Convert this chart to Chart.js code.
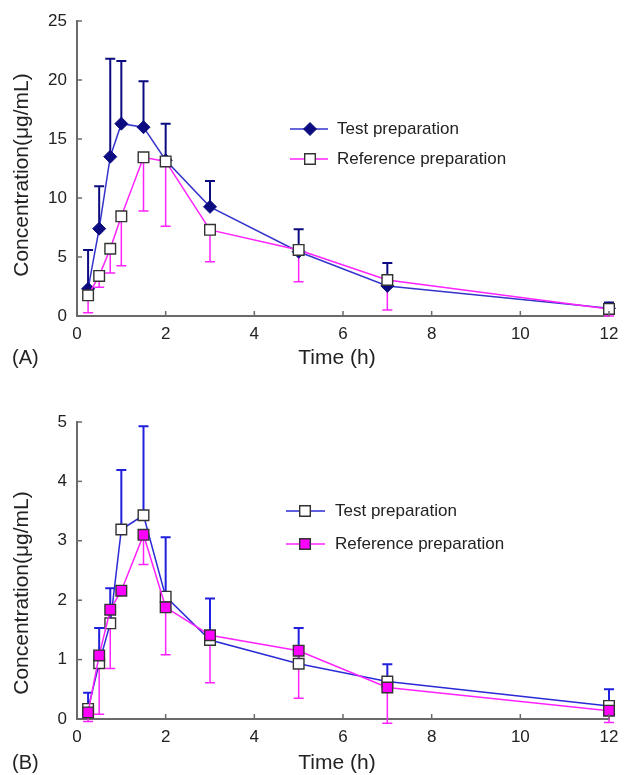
<!DOCTYPE html>
<html>
<head>
<meta charset="utf-8">
<script src="https://cdn.jsdelivr.net/npm/chart.js@4/dist/chart.umd.min.js"></script>
<style>
  body { margin: 0; background: #fff; }
  .panel { position: absolute; left: 0; }
</style>
</head>
<body>
<div class="panel" style="top:0px"><canvas id="chartA" width="639" height="380"></canvas></div>
<div class="panel" style="top:380px"><canvas id="chartB" width="639" height="395"></canvas></div>
<script>
// sampling times (h)
var times = [0.25, 0.5, 0.75, 1, 1.5, 2, 3, 5, 7, 12];

// panel A
var testMeanA = [2.3, 7.4, 13.5, 16.3, 16.0, 13.2, 9.25, 5.45, 2.55, 0.65];
var testSdA   = [3.3, 3.6, 8.3, 5.3, 3.9, 3.1, 2.2, 1.9, 1.95, 0.5];
var refMeanA  = [1.75, 3.4, 5.7, 8.45, 13.45, 13.1, 7.3, 5.6, 3.05, 0.6];
var refSdA    = [1.47, 0.96, 2.06, 4.2, 4.55, 5.5, 2.7, 2.7, 2.55, 0.6];

// panel B
var testMeanB = [0.17, 0.94, 1.61, 3.19, 3.43, 2.06, 1.33, 0.93, 0.63, 0.22];
var testSdB   = [0.27, 0.59, 0.59, 1.0, 1.5, 1.0, 0.7, 0.6, 0.29, 0.28];
var refMeanB  = [0.11, 1.07, 1.84, 2.16, 3.1, 1.88, 1.41, 1.15, 0.53, 0.14];
var refSdB    = [0.15, 0.99, 0.99, 0, 0.5, 0.8, 0.8, 0.8, 0.6, 0.2];

var xTicks = [0, 2, 4, 6, 8, 10, 12];
var yTicksA = [0, 5, 10, 15, 20, 25];
var yTicksB = [0, 1, 2, 3, 4, 5];

var FONT = "'Liberation Sans', Arial, sans-serif";
var TEXT = '#222';
var AXIS = '#6a6a6a';

function points(means) {
    return times.map(function (t, i) { return { x: t, y: means[i] }; });
}

function drawMarker(ctx, style, x, y, r, fill, stroke, lw) {
    ctx.save();
    ctx.beginPath();
    if (style === 'rectRot') {
        ctx.moveTo(x, y - r);
        ctx.lineTo(x + r, y);
        ctx.lineTo(x, y + r);
        ctx.lineTo(x - r, y);
        ctx.closePath();
    } else {
        var s = Math.SQRT1_2 * r;
        ctx.rect(x - s, y - s, 2 * s, 2 * s);
    }
    ctx.fillStyle = fill;
    ctx.fill();
    ctx.lineWidth = lw;
    ctx.strokeStyle = stroke;
    ctx.stroke();
    ctx.restore();
}

// error bars, drawn under the markers
var errorBars = {
    id: 'errorBars',
    beforeDatasetsDraw: function (chart) {
        var ctx = chart.ctx;
        var xs = chart.scales.x, ys = chart.scales.y;
        chart.data.datasets.forEach(function (ds) {
            if (!ds.sd) return;
            ctx.save();
            ctx.strokeStyle = ds.errorColor;
            ctx.lineWidth = ds.errorWidth;
            ds.data.forEach(function (p, i) {
                if (!ds.sd[i]) return;
                var x = xs.getPixelForValue(p.x);
                var y0 = ys.getPixelForValue(p.y);
                var y1 = ys.getPixelForValue(p.y + ds.errorDir * ds.sd[i]);
                ctx.beginPath();
                ctx.moveTo(x, y0);
                ctx.lineTo(x, y1);
                ctx.moveTo(x - 5, y1);
                ctx.lineTo(x + 5, y1);
                ctx.stroke();
            });
            ctx.restore();
        });
    }
};

// inward tick marks, axis titles, panel letter, legend
var decor = {
    id: 'decor',
    afterDraw: function (chart, args, opts) {
        var ctx = chart.ctx;
        var xs = chart.scales.x, ys = chart.scales.y;
        var a = chart.chartArea;
        ctx.save();
        ctx.strokeStyle = AXIS;
        ctx.lineWidth = 1.5;
        xs.ticks.forEach(function (t) {
            var x = xs.getPixelForValue(t.value);
            ctx.beginPath();
            ctx.moveTo(x, a.bottom);
            ctx.lineTo(x, a.bottom - 5);
            ctx.stroke();
        });
        ys.ticks.forEach(function (t) {
            var y = ys.getPixelForValue(t.value);
            ctx.beginPath();
            ctx.moveTo(a.left, y);
            ctx.lineTo(a.left + 5, y);
            ctx.stroke();
        });

        ctx.fillStyle = TEXT;
        ctx.font = '21px ' + FONT;
        ctx.textAlign = 'center';
        ctx.textBaseline = 'middle';
        ctx.fillText('Time (h)', opts.xTitle[0], opts.xTitle[1]);
        ctx.save();
        ctx.translate(opts.yTitle[0], opts.yTitle[1]);
        ctx.rotate(-Math.PI / 2);
        ctx.fillText('Concentration(\u03bcg/mL)', 0, 0);
        ctx.restore();
        ctx.font = '20px ' + FONT;
        ctx.textAlign = 'left';
        ctx.fillText(opts.panel, opts.panelPos[0], opts.panelPos[1]);

        // legend
        var lg = opts.legend;
        ctx.font = '17px ' + FONT;
        chart.data.datasets.forEach(function (ds, i) {
            var y = lg.rows[i];
            ctx.strokeStyle = ds.borderColor;
            ctx.lineWidth = ds.borderWidth;
            ctx.beginPath();
            ctx.moveTo(lg.x0, y);
            ctx.lineTo(lg.x1, y);
            ctx.stroke();
            drawMarker(ctx, ds.pointStyle, lg.mx, y, ds.pointRadius,
                ds.pointBackgroundColor, ds.pointBorderColor, ds.pointBorderWidth);
            ctx.fillStyle = TEXT;
            ctx.fillText(ds.label, lg.tx, y);
        });
        ctx.restore();
    }
};

function makeChart(id, datasets, yMax, yStep, yTicks, decorOpts, pad) {
    return new Chart(document.getElementById(id), {
        type: 'line',
        data: { datasets: datasets },
        options: {
            responsive: false,
            animation: false,
            layout: { padding: pad },
            plugins: {
                legend: { display: false },
                tooltip: { enabled: false },
                decor: decorOpts
            },
            scales: {
                x: {
                    type: 'linear',
                    min: 0,
                    max: 12,
                    afterBuildTicks: function (s) { s.ticks = xTicks.map(function (v) { return { value: v }; }); },
                    afterFit: function (s) { s.height = 40; },
                    grid: { display: false, drawTicks: false },
                    border: { display: true, color: AXIS, width: 2 },
                    ticks: { color: TEXT, font: { family: FONT, size: 17 }, padding: 8, maxRotation: 0 }
                },
                y: {
                    min: 0,
                    max: yMax,
                    afterBuildTicks: function (s) { s.ticks = yTicks.map(function (v) { return { value: v }; }); },
                    afterFit: function (s) { s.width = 77; },
                    grid: { display: false, drawTicks: false },
                    border: { display: true, color: AXIS, width: 2 },
                    ticks: { color: TEXT, font: { family: FONT, size: 17 }, padding: 10 }
                }
            }
        },
        plugins: [errorBars, decor]
    });
}

// reference series gets order 0 so its markers sit on top, as in the figure
makeChart('chartA', [
    {
        label: 'Test preparation',
        data: points(testMeanA), order: 1,
        sd: testSdA, errorDir: 1, errorColor: '#0c0c80', errorWidth: 2,
        borderColor: '#3434cc', borderWidth: 1.5,
        pointStyle: 'rectRot', pointRadius: 6.5,
        pointBackgroundColor: '#0c0c80', pointBorderColor: '#0c0c80', pointBorderWidth: 1,
        clip: false
    },
    {
        label: 'Reference preparation',
        data: points(refMeanA), order: 0,
        sd: refSdA, errorDir: -1, errorColor: '#ff22ff', errorWidth: 1.5,
        borderColor: '#ff22ff', borderWidth: 1.5,
        pointStyle: 'rect', pointRadius: 7.5,
        pointBackgroundColor: '#ffffff', pointBorderColor: '#333333', pointBorderWidth: 1.4,
        clip: false
    }
], 25, 5, yTicksA, {
    xTitle: [337, 358], yTitle: [22, 175], panel: '(A)', panelPos: [12, 358],
    legend: { x0: 290, x1: 328, mx: 310, tx: 337, rows: [129, 159] }
}, { left: 0, right: 30, top: 21, bottom: 24 });

makeChart('chartB', [
    {
        label: 'Test preparation',
        data: points(testMeanB), order: 1,
        sd: testSdB, errorDir: 1, errorColor: '#2020dd', errorWidth: 2,
        borderColor: '#2a2ad6', borderWidth: 1.5,
        pointStyle: 'rect', pointRadius: 7.5,
        pointBackgroundColor: '#ffffff', pointBorderColor: '#333333', pointBorderWidth: 1.4,
        clip: false
    },
    {
        label: 'Reference preparation',
        data: points(refMeanB), order: 0,
        sd: refSdB, errorDir: -1, errorColor: '#ff22ff', errorWidth: 1.5,
        borderColor: '#ff22ff', borderWidth: 1.5,
        pointStyle: 'rect', pointRadius: 7.5,
        pointBackgroundColor: '#ff00ff', pointBorderColor: '#333333', pointBorderWidth: 1.4,
        clip: false
    }
], 5, 1, yTicksB, {
    xTitle: [337, 383], yTitle: [22, 213], panel: '(B)', panelPos: [12, 383],
    legend: { x0: 286, x1: 325, mx: 305, tx: 335, rows: [131, 164] }
}, { left: 0, right: 30, top: 42, bottom: 16 });
</script>
</body>
</html>
